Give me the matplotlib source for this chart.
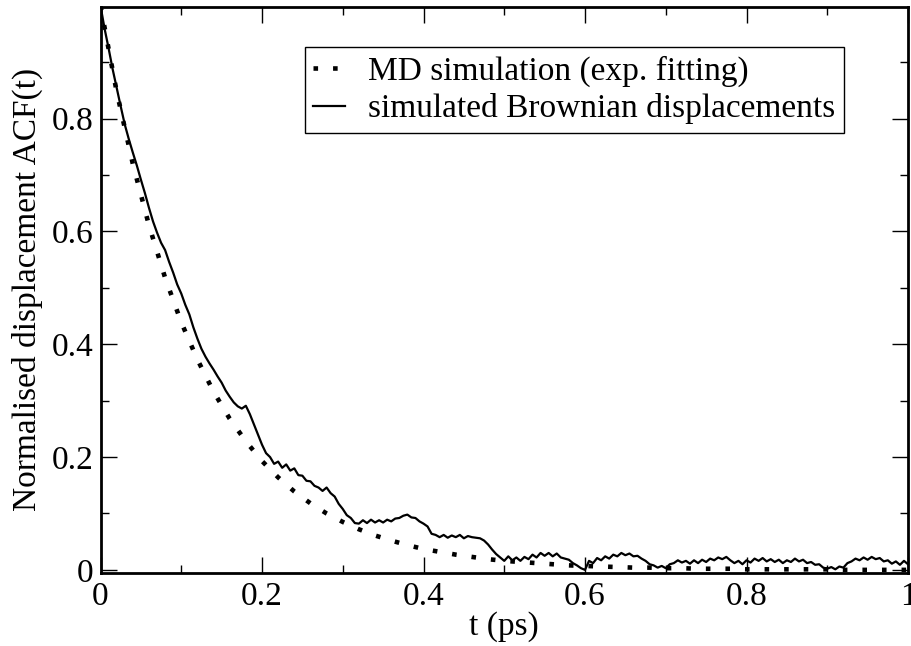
import numpy as np
import matplotlib
matplotlib.use("Agg")
import matplotlib.pyplot as plt
from matplotlib.ticker import MultipleLocator, FuncFormatter

plt.rcParams['font.family'] = ['Liberation Serif', 'DejaVu Serif']

# ---- data ----
t_fit = [0.00, 0.02, 0.04, 0.06, 0.08, 0.10, 0.12, 0.14, 0.16, 0.18,
         0.20, 0.22, 0.24, 0.26, 0.28, 0.30, 0.32, 0.34, 0.36, 0.38,
         0.40, 0.42, 0.44, 0.46, 0.48, 0.50, 0.52, 0.54, 0.56, 0.58,
         0.60, 0.62, 0.64, 0.66, 0.68, 0.70, 0.72, 0.74, 0.76, 0.78,
         0.80, 0.82, 0.84, 0.86, 0.88, 0.90, 0.92, 0.94, 0.96, 0.98, 1.00]
acf_fit = [1.000, 0.848, 0.720, 0.611, 0.518, 0.439, 0.373, 0.316, 0.268, 0.228,
           0.193, 0.164, 0.139, 0.118, 0.100, 0.085, 0.072, 0.061, 0.052, 0.044,
           0.037, 0.032, 0.027, 0.023, 0.019, 0.016, 0.014, 0.012, 0.010, 0.008,
           0.007, 0.006, 0.005, 0.004, 0.004, 0.003, 0.003, 0.002, 0.002, 0.002,
           0.001, 0.001, 0.001, 0.001, 0.001, 0.001, 0.000, 0.000, 0.000, 0.000, 0.000]

t_brown_start, t_brown_step = 0.0, 0.005
acf_brown = [
    1.000, 0.960, 0.925, 0.888, 0.855, 0.822, 0.790, 0.764, 0.740, 0.717,
    0.692, 0.668, 0.642, 0.618, 0.598, 0.580, 0.567, 0.546, 0.527, 0.506,
    0.490, 0.470, 0.453, 0.430, 0.410, 0.392, 0.378, 0.366, 0.355, 0.343,
    0.332, 0.318, 0.307, 0.297, 0.290, 0.286, 0.291, 0.276, 0.258, 0.240,
    0.222, 0.207, 0.200, 0.188, 0.192, 0.181, 0.187, 0.176, 0.180, 0.168,
    0.167, 0.158, 0.157, 0.149, 0.146, 0.140, 0.146, 0.136, 0.130, 0.117,
    0.108, 0.097, 0.092, 0.083, 0.082, 0.088, 0.083, 0.089, 0.084, 0.088,
    0.084, 0.089, 0.086, 0.091, 0.092, 0.096, 0.098, 0.093, 0.092, 0.086,
    0.082, 0.077, 0.064, 0.062, 0.058, 0.062, 0.057, 0.061, 0.058, 0.062,
    0.056, 0.060, 0.058, 0.057, 0.056, 0.052, 0.045, 0.036, 0.028, 0.022,
    0.016, 0.024, 0.017, 0.022, 0.016, 0.023, 0.019, 0.027, 0.022, 0.030,
    0.025, 0.030, 0.024, 0.029, 0.022, 0.020, 0.018, 0.012, 0.008, 0.003,
    0.000, 0.016, 0.012, 0.021, 0.017, 0.024, 0.020, 0.027, 0.024, 0.030,
    0.026, 0.029, 0.024, 0.025, 0.020, 0.016, 0.010, 0.008, 0.004, 0.007,
    0.003, 0.010, 0.012, 0.017, 0.013, 0.016, 0.011, 0.017, 0.012, 0.018,
    0.014, 0.020, 0.017, 0.022, 0.019, 0.023, 0.017, 0.012, 0.016, 0.010,
    0.017, 0.013, 0.020, 0.016, 0.021, 0.015, 0.019, 0.014, 0.018, 0.012,
    0.017, 0.014, 0.020, 0.015, 0.018, 0.012, 0.014, 0.009, 0.010, 0.004,
    0.002, 0.005, 0.001, 0.006, 0.004, 0.012, 0.015, 0.020, 0.017, 0.022,
    0.018, 0.023, 0.019, 0.021, 0.015, 0.017, 0.011, 0.015, 0.009, 0.016,
    0.010]
t_brown = [t_brown_start + i * t_brown_step for i in range(len(acf_brown))]

label_fit = "MD simulation (exp. fitting)"
label_brown = "simulated Brownian displacements"
xlabel = "t (ps)"
ylabel = "Normalised displacement ACF(t)"

# ---- figure ----
W, H = 911, 646
fig = plt.figure(figsize=(W / 100, H / 100), dpi=100)
ax = fig.add_axes([100.5 / W, 1 - 572.7 / H, (908 - 100.5) / W, (572.7 - 7) / H])

ax.plot(t_fit, acf_fit, color='black', lw=3.3, linestyle=(0, (1, 3.27)),
        dash_capstyle='butt', label=label_fit, zorder=3)
ax.plot(t_brown, acf_brown, color='black', lw=1.6, label=label_brown, zorder=2)

ax.set_xlim(0, 1.0)
ax.set_ylim(-0.005, 0.998)

ax.xaxis.set_major_locator(MultipleLocator(0.2))
ax.xaxis.set_minor_locator(MultipleLocator(0.1))
ax.yaxis.set_major_locator(MultipleLocator(0.2))
ax.yaxis.set_minor_locator(MultipleLocator(0.1))

def fmt(v, pos):
    if abs(v) < 1e-9:
        return "0"
    if abs(v - 1) < 1e-9:
        return "1"
    return f"{v:.1f}"
ax.xaxis.set_major_formatter(FuncFormatter(fmt))
ax.yaxis.set_major_formatter(FuncFormatter(fmt))

ax.tick_params(which='both', direction='in', top=True, right=True,
               labelsize=24, width=1.0, color='black')
ax.tick_params(which='major', length=11.5)
ax.tick_params(which='minor', length=6)
ax.tick_params(axis='x', which='major', pad=6)
ax.tick_params(axis='y', which='major', pad=5)

for sp in ax.spines.values():
    sp.set_linewidth(2.0)

ax.set_xlabel(xlabel, fontsize=24, labelpad=0)
ax.set_ylabel(ylabel, fontsize=24, labelpad=6)

leg = ax.legend(loc='upper right', bbox_to_anchor=(844 / W, 1 - 47 / H),
                bbox_transform=fig.transFigure, fontsize=24, frameon=True,
                fancybox=False, framealpha=1, edgecolor='black',
                borderaxespad=0, handlelength=0.95, handletextpad=0.7,
                borderpad=0.25, labelspacing=0.2)
leg.get_frame().set_linewidth(1.0)

fig.savefig("out.png", dpi=100)
